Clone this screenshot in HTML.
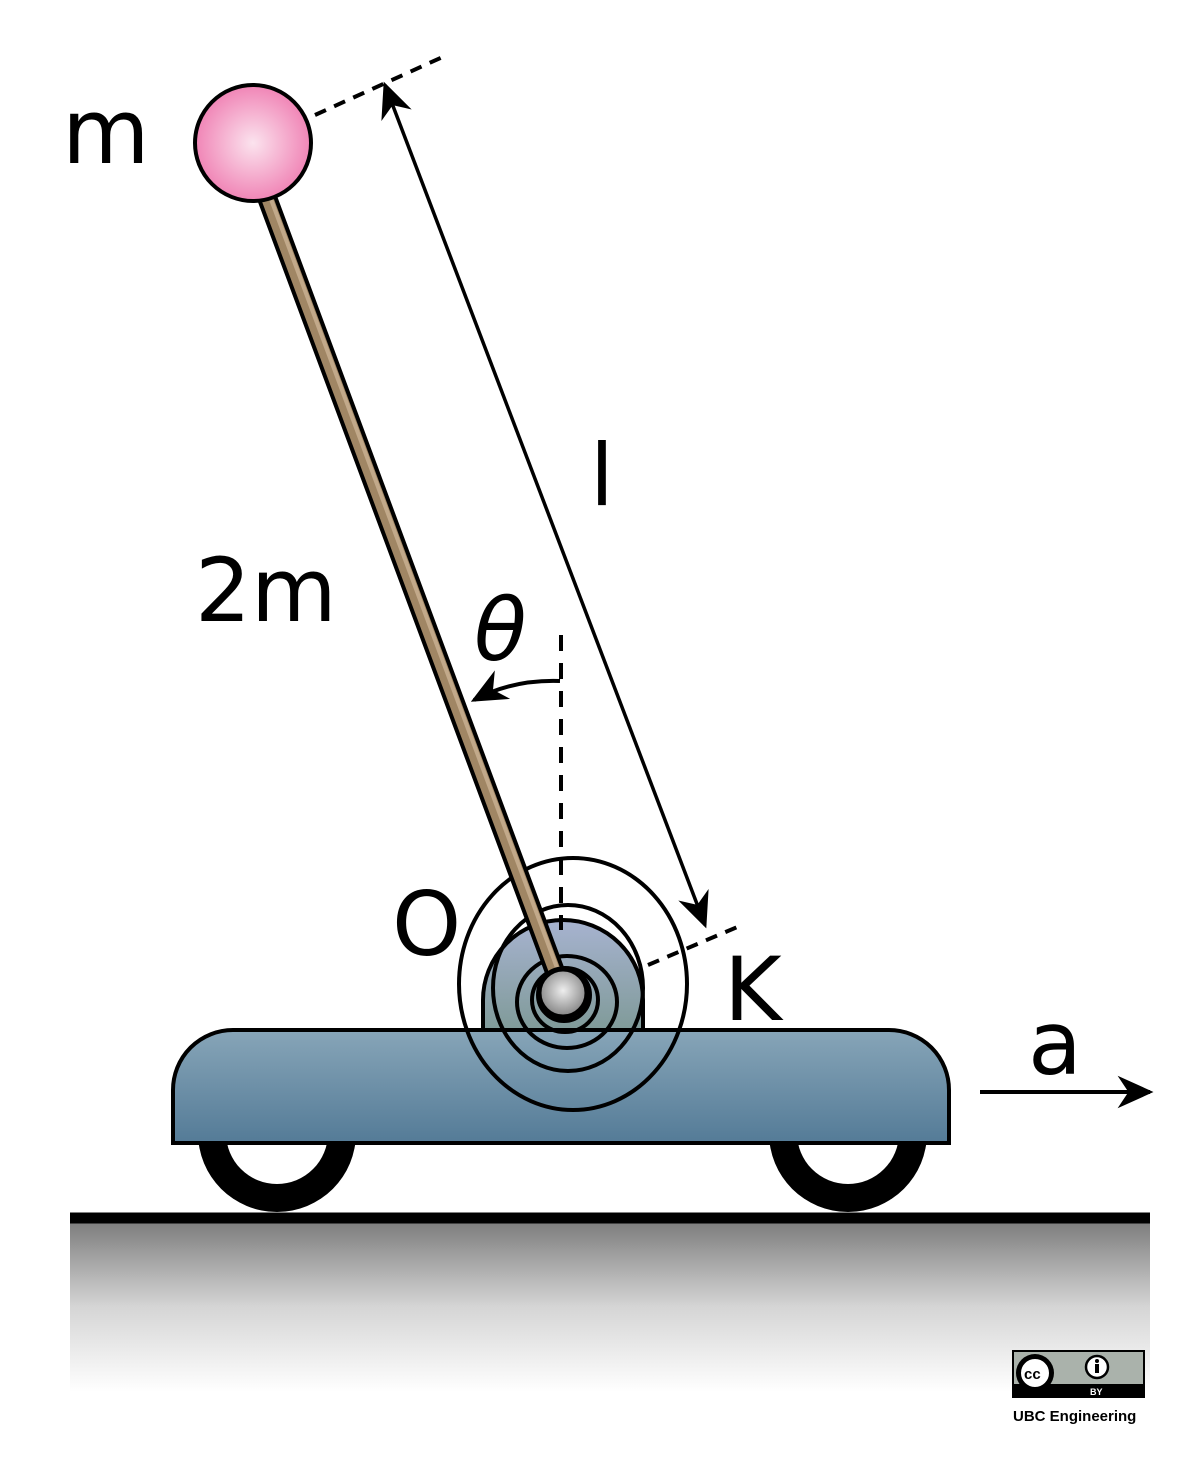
<!DOCTYPE html>
<html><head><meta charset="utf-8">
<style>
html,body{margin:0;padding:0;background:#fff;}
svg{display:block;}
text{font-family:"DejaVu Sans","Liberation Sans",sans-serif;fill:#000;}
</style></head>
<body>
<svg width="1197" height="1477" viewBox="0 0 1197 1477">
<defs>
<radialGradient id="pink" cx="0.5" cy="0.5" r="0.55"><stop offset="0" stop-color="#fbe3ee"/><stop offset="1" stop-color="#ef7bb0"/></radialGradient>
<radialGradient id="grey" cx="0.5" cy="0.45" r="0.6"><stop offset="0" stop-color="#eeeeee"/><stop offset="1" stop-color="#777"/></radialGradient>
<linearGradient id="cart" x1="0" y1="0" x2="0" y2="1"><stop offset="0" stop-color="#87a5b8"/><stop offset="1" stop-color="#547b97"/></linearGradient>
<linearGradient id="bracket" x1="0" y1="0" x2="0" y2="1"><stop offset="0" stop-color="#a7b3d0"/><stop offset="1" stop-color="#7f9a98"/></linearGradient>
<linearGradient id="ground" x1="0" y1="0" x2="0" y2="1"><stop offset="0" stop-color="#7d7d7d"/><stop offset="0.5" stop-color="#d5d5d5"/><stop offset="1" stop-color="#ffffff"/></linearGradient>
<marker id="ah2" viewBox="0 0 20 20" refX="18" refY="10" markerWidth="36" markerHeight="36" orient="auto-start-reverse" markerUnits="userSpaceOnUse"><path d="M0,1 L20,10 L0,19 L6,10 Z" fill="#000"/></marker>
</defs>

<rect x="70" y="1222" width="1080" height="170" fill="url(#ground)"/>
<line x1="70" y1="1218" x2="1150" y2="1218" stroke="#000" stroke-width="11"/>

<g>
<circle cx="277" cy="1133" r="79" fill="#000"/><circle cx="277" cy="1133" r="51" fill="#fff"/>
</g>
<g>
<circle cx="848" cy="1133" r="79" fill="#000"/><circle cx="848" cy="1133" r="51" fill="#fff"/>
</g>

<path d="M483,1032 L483,1000 A80,80 0 0 1 643,1000 L643,1032 Z" fill="url(#bracket)" stroke="#000" stroke-width="4"/>

<path d="M173,1143 L173,1090 A60,60 0 0 1 233,1030 L889,1030 A60,60 0 0 1 949,1090 L949,1143 Z" fill="url(#cart)" stroke="#000" stroke-width="4"/>

<line x1="561" y1="635" x2="561" y2="930" stroke="#000" stroke-width="4" stroke-dasharray="16,12"/>
<line x1="315" y1="115" x2="447" y2="55" stroke="#000" stroke-width="4" stroke-dasharray="12,9"/>
<line x1="648" y1="965" x2="742" y2="925" stroke="#000" stroke-width="4" stroke-dasharray="12,9"/>

<g fill="none" stroke="#000" stroke-width="4">
<ellipse cx="573" cy="984" rx="114" ry="126"/>
<ellipse cx="568" cy="988" rx="75" ry="83"/>
<ellipse cx="567" cy="1002" rx="50" ry="46"/>
<ellipse cx="565" cy="1000" rx="33" ry="32"/>
<circle cx="564" cy="995" r="26"/>
</g>

<line x1="266" y1="195" x2="560" y2="985" stroke="#000" stroke-width="20" stroke-linecap="round"/>
<line x1="266" y1="195" x2="560" y2="985" stroke="#a08664" stroke-width="12" stroke-linecap="round"/>
<line x1="269" y1="194" x2="563" y2="984" stroke="#c2a98a" stroke-width="4" stroke-linecap="round"/>

<circle cx="563" cy="993" r="24" fill="url(#grey)" stroke="#000" stroke-width="5"/>

<circle cx="253" cy="143" r="58" fill="url(#pink)" stroke="#000" stroke-width="4"/>

<line x1="385" y1="85" x2="705" y2="925" stroke="#000" stroke-width="3.5" marker-start="url(#ah2)" marker-end="url(#ah2)"/>

<path d="M560,681 C530,680 500,686 474,700" fill="none" stroke="#000" stroke-width="4" marker-end="url(#ah2)"/>

<line x1="980" y1="1092" x2="1150" y2="1092" stroke="#000" stroke-width="4" marker-end="url(#ah2)"/>

<text x="62" y="163" font-size="90">m</text>
<text x="195" y="621" font-size="88">2m</text>
<text x="590" y="505" font-size="86">l</text>
<text x="474" y="660" font-size="86" font-style="italic">θ</text>
<text x="392" y="955" font-size="88">O</text>
<text x="724" y="1020" font-size="88">K</text>
<text x="1028" y="1074" font-size="88">a</text>

<g>
<rect x="1013" y="1351" width="131" height="46" fill="#aab2ab" stroke="#000" stroke-width="2"/>
<rect x="1013" y="1384" width="131" height="13" fill="#000"/>
<text x="1090" y="1395" font-size="9" font-weight="bold" style="fill:#fff;font-family:'Liberation Sans',sans-serif">BY</text>
<circle cx="1035" cy="1373" r="19" fill="#000"/>
<circle cx="1035" cy="1373" r="15" fill="#fff" stroke="#000" stroke-width="2"/>
<text x="1024" y="1379" font-size="15" font-weight="bold" style="font-family:'Liberation Sans',sans-serif">cc</text>
<circle cx="1097" cy="1367" r="11" fill="#fff" stroke="#000" stroke-width="2.5"/>
<circle cx="1097" cy="1361" r="2" fill="#000"/>
<rect x="1095" y="1364" width="4" height="9" fill="#000"/>
</g>
<text x="1013" y="1421" font-size="15" font-weight="bold" style="font-family:'Liberation Sans',sans-serif">UBC Engineering</text>
</svg>
</body></html>
